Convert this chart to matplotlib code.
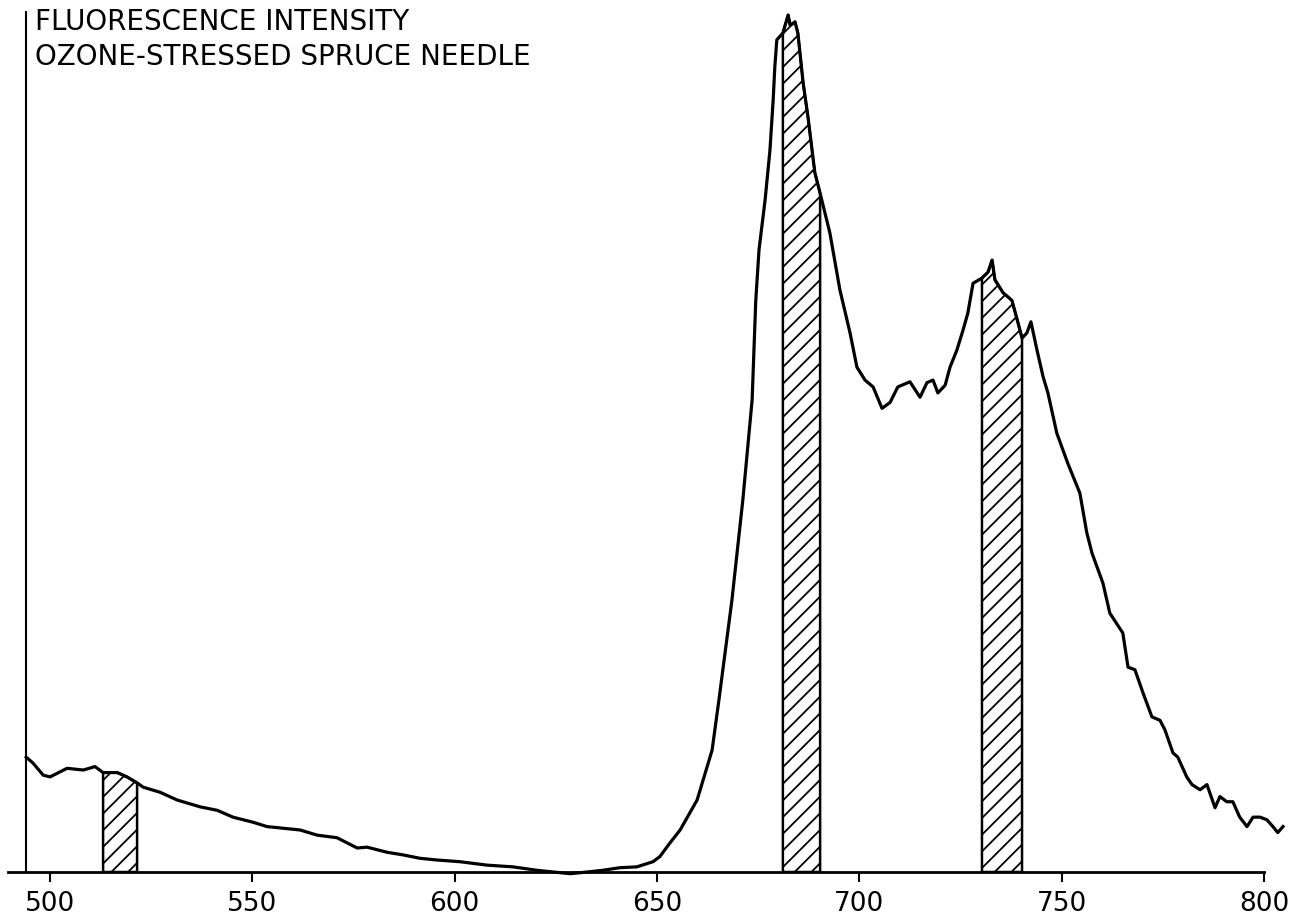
import matplotlib
matplotlib.use('Agg')
import matplotlib.pyplot as plt
import numpy as np

plt.rcParams['font.family'] = 'DejaVu Sans'
plt.rcParams['hatch.linewidth'] = 1.3

wavelength = [494.1, 495.8, 498.3, 500.0, 504.2, 508.2, 511.1, 513.1, 516.6, 519.0,
              521.5, 523.0, 527.2, 531.4, 537.1, 541.3, 545.2, 550.2, 553.6, 557.6,
              561.8, 566.0, 570.9, 575.9, 578.3, 583.3, 587.2, 591.4, 595.6, 601.3,
              608.0, 614.4, 620.3, 624.3, 628.5, 632.7, 636.6, 640.8, 645.0, 649.0,
              650.7, 653.2, 655.7, 658.1, 659.9, 663.6, 665.3, 668.5, 671.2, 673.5,
              674.4, 675.2, 676.7, 677.9, 678.7, 679.1, 679.6, 681.1, 682.4, 682.9,
              684.1, 684.8, 686.1, 687.3, 689.0, 690.3, 692.7, 695.2, 697.7, 699.4,
              701.4, 703.4, 705.6, 707.6, 709.5, 712.5, 715.0, 716.7, 718.2, 719.4,
              721.2, 722.4, 724.1, 725.6, 726.8, 728.1, 730.3, 731.8, 732.8, 733.5,
              735.5, 737.7, 739.2, 740.2, 741.4, 742.4, 743.9, 745.4, 746.6, 748.8,
              751.5, 754.5, 756.2, 757.5, 760.2, 761.9, 765.1, 766.4, 768.1, 770.1,
              772.3, 774.3, 775.5, 777.5, 778.7, 780.9, 782.2, 784.2, 785.9, 787.9,
              789.1, 790.8, 792.3, 794.0, 795.8, 797.3, 799.0, 800.7, 802.2, 803.4,
              804.7]
intensity = [13.4, 12.7, 11.3, 11.1, 12.1, 11.9, 12.3, 11.6, 11.6, 11.1,
             10.4, 9.9, 9.3, 8.4, 7.6, 7.2, 6.4, 5.8, 5.3, 5.1,
             4.9, 4.3, 4.0, 2.8, 2.9, 2.3, 2.0, 1.6, 1.4, 1.2,
             0.8, 0.6, 0.2, 0.0, -0.2, 0.0, 0.2, 0.5, 0.6, 1.2,
             1.8, 3.4, 4.9, 6.9, 8.4, 14.2, 20.1, 31.7, 43.4, 55.1,
             66.7, 72.6, 78.4, 84.2, 90.1, 93.9, 97.1, 97.9, 100.0, 98.8,
             99.2, 97.9, 92.1, 88.1, 81.6, 79.2, 74.6, 67.9, 62.9, 58.9,
             57.4, 56.6, 54.1, 54.8, 56.6, 57.2, 55.4, 57.1, 57.4, 55.9,
             56.8, 58.9, 60.9, 63.2, 65.2, 68.7, 69.3, 70.0, 71.4, 69.1,
             67.6, 66.7, 64.1, 62.3, 62.9, 64.2, 60.9, 57.8, 55.9, 51.2,
             47.7, 44.2, 39.6, 37.2, 33.7, 30.2, 27.9, 23.9, 23.6, 20.9,
             18.1, 17.7, 16.6, 13.9, 13.4, 11.1, 10.2, 9.6, 10.2, 7.5,
             8.8, 8.2, 8.2, 6.4, 5.3, 6.4, 6.4, 6.1, 5.3, 4.6,
             5.3]

# hatched detection bands (nm)
bands = [(512.8, 522.2), (681.0, 690.4), (730.2, 740.3)]

ticks = [500, 550, 600, 650, 700, 750, 800]
title_lines = ['FLUORESCENCE INTENSITY', 'OZONE-STRESSED SPRUCE NEEDLE']

wl = np.array(wavelength)
inten = np.array(intensity)

fig = plt.figure(figsize=(13.04, 9.15), dpi=100)
ax = fig.add_axes([8 / 1304, 43 / 915, 1256 / 1304, 860 / 915])

for lo, hi in bands:
    mask = (wl >= lo) & (wl <= hi)
    ax.fill_between(wl[mask], 0, inten[mask], facecolor='white', edgecolor='black',
                    hatch='//', linewidth=1.8, zorder=2)

ax.plot(wl, inten, color='black', lw=2.3, solid_joinstyle='round', clip_on=False, zorder=3)

ax.set_xlim(489.6, 800)
ax.set_ylim(0, 100.35)
ax.set_xticks(ticks)
ax.set_yticks([])
ax.tick_params(axis='x', direction='out', length=7, width=1.5, labelsize=19, pad=7)

ax.spines['top'].set_visible(False)
ax.spines['right'].set_visible(False)
ax.spines['left'].set_position(('data', 494.1))
ax.spines['left'].set_linewidth(1.5)
ax.spines['bottom'].set_linewidth(2)

fig.text(35 / 1304, 1 - 8 / 915, '\n'.join(title_lines), fontsize=20,
         ha='left', va='top', linespacing=1.3)

fig.savefig('out.png', dpi=100, facecolor='white')
